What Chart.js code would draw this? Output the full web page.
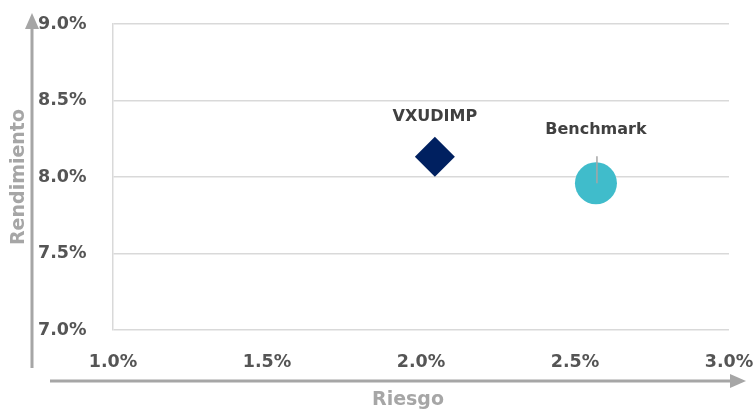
<!DOCTYPE html>
<html>
<head>
<meta charset="utf-8">
<script src="https://cdn.jsdelivr.net/npm/chart.js@4"></script>
<style>
html,body{margin:0;padding:0;background:#fff;}
#wrap{width:754px;height:412px;position:relative;}
</style>
</head>
<body>
<div id="wrap"><canvas id="c" width="754" height="412"></canvas></div>
<script>
const seriesNames = ['VXUDIMP', 'Benchmark'];
const riesgo = [2.045, 2.568];
const rendimiento = [8.133, 7.959];
const seriesColors = ['#002060', '#40BCCB'];
const seriesShapes = ['rectRot', 'circle'];
const xTickValues = [1.0, 1.5, 2.0, 2.5, 3.0];
const yTickValues = [7.0, 7.5, 8.0, 8.5, 9.0];
const xTitle = 'Riesgo';
const yTitle = 'Rendimiento';

const FONT = '"DejaVu Sans", sans-serif';
const GRID = '#d9d9d9';
const ARROW = '#a6a6a6';

const datasets = seriesNames.map((n, i) => ({
  label: n,
  data: [{x: riesgo[i], y: rendimiento[i]}],
  backgroundColor: seriesColors[i],
  borderColor: seriesColors[i],
  borderWidth: 0,
  pointStyle: seriesShapes[i],
  pointRadius: i === 0 ? 20 : 21,
  pointHoverRadius: i === 0 ? 20 : 21
}));

const decor = {
  id: 'decor',
  afterDatasetsDraw(chart) {
    const ctx = chart.ctx;
    ctx.save();
    const bEl = chart.getDatasetMeta(1).data[0];
    ctx.strokeStyle = ARROW;
    ctx.lineWidth = 1.5;
    ctx.beginPath();
    ctx.moveTo(bEl.x + 1, bEl.y - 27);
    ctx.lineTo(bEl.x + 1, bEl.y);
    ctx.stroke();
    ctx.fillStyle = '#404040';
    ctx.font = 'bold 16px ' + FONT;
    ctx.textAlign = 'center';
    ctx.textBaseline = 'middle';
    const offs = [-40, -53];
    chart.data.datasets.forEach((ds, i) => {
      const el = chart.getDatasetMeta(i).data[0];
      ctx.fillText(ds.label, el.x, el.y + offs[i]);
    });
    ctx.restore();
  },
  afterDraw(chart) {
    const ctx = chart.ctx;
    const a = chart.chartArea;
    ctx.save();
    ctx.strokeStyle = ARROW;
    ctx.fillStyle = ARROW;
    ctx.lineWidth = 3;
    const vx = 32;
    ctx.beginPath();
    ctx.moveTo(vx, 368);
    ctx.lineTo(vx, a.top + 2);
    ctx.stroke();
    ctx.beginPath();
    ctx.moveTo(vx, a.top - 11);
    ctx.lineTo(vx - 7, a.top + 5);
    ctx.lineTo(vx + 7, a.top + 5);
    ctx.closePath();
    ctx.fill();
    const hy = 381;
    ctx.beginPath();
    ctx.moveTo(50, hy);
    ctx.lineTo(733, hy);
    ctx.stroke();
    ctx.beginPath();
    ctx.moveTo(746, hy);
    ctx.lineTo(730, hy - 7);
    ctx.lineTo(730, hy + 7);
    ctx.closePath();
    ctx.fill();
    ctx.font = 'bold 19px ' + FONT;
    ctx.textAlign = 'center';
    ctx.textBaseline = 'middle';
    ctx.fillText(xTitle, 408, 400);
    ctx.translate(19, 177);
    ctx.rotate(-Math.PI / 2);
    ctx.fillText(yTitle, 0, 0);
    ctx.restore();
  }
};

new Chart(document.getElementById('c'), {
  type: 'scatter',
  data: { datasets },
  options: {
    responsive: false,
    animation: false,
    devicePixelRatio: 1,
    layout: { padding: { left: 38, right: 0, top: 24, bottom: 32 } },
    plugins: { legend: { display: false }, tooltip: { enabled: false } },
    scales: {
      x: {
        type: 'linear',
        min: 1.0, max: 3.0,
        afterBuildTicks: s => { s.ticks = xTickValues.map(v => ({value: v})); },
        afterFit: s => { s.height = 50; s.paddingRight = 25; },
        grid: { display: false, drawTicks: false },
        border: { display: false },
        ticks: {
          padding: 22,
          color: '#555555',
          font: { family: FONT, size: 17.5, weight: 'bold' },
          maxRotation: 0,
          callback: v => v.toFixed(1) + '%'
        }
      },
      y: {
        type: 'linear',
        min: 7.0, max: 9.0,
        afterBuildTicks: s => { s.ticks = yTickValues.map(v => ({value: v})); },
        afterFit: s => { s.width = 75; },
        grid: { color: GRID, lineWidth: 1.5, drawTicks: false },
        border: { display: true, color: GRID, width: 1.5 },
        ticks: {
          crossAlign: 'far',
          padding: 8,
          color: '#555555',
          font: { family: FONT, size: 17.5, weight: 'bold' },
          callback: v => v.toFixed(1) + '%'
        }
      }
    }
  },
  plugins: [decor]
});
</script>
</body>
</html>
